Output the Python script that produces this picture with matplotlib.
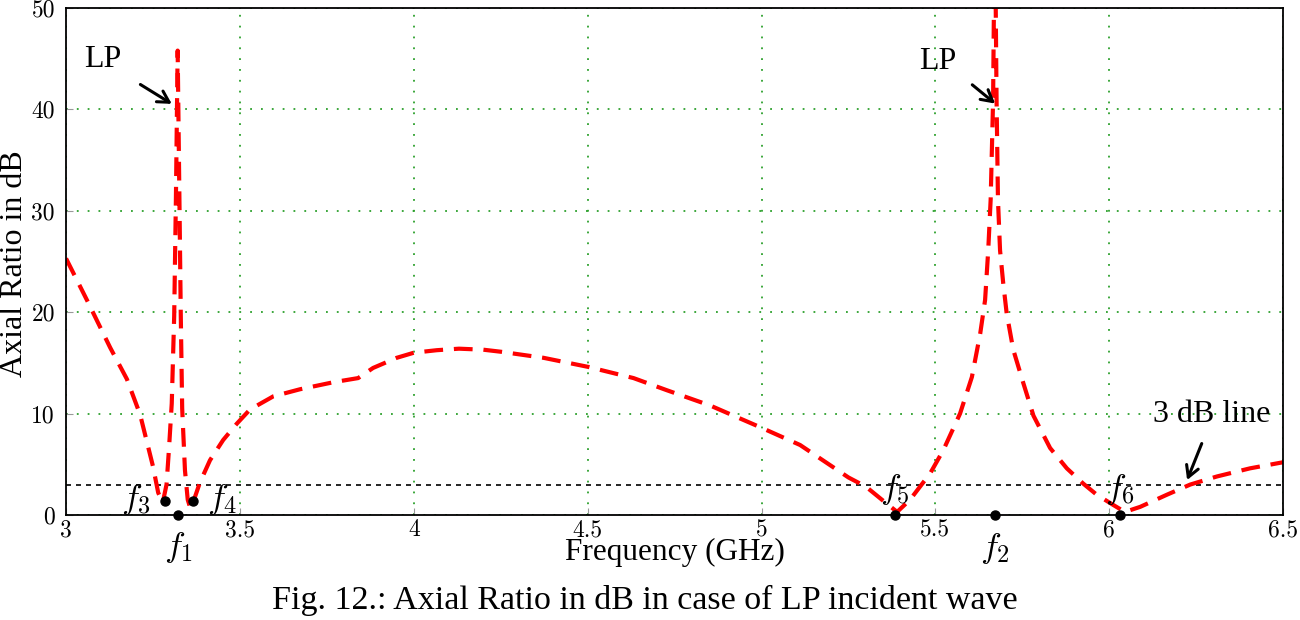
import matplotlib
matplotlib.use('Agg')
import matplotlib.pyplot as plt

# axial ratio curve (GHz, dB)
freq = [3.000, 3.060, 3.127, 3.175, 3.213, 3.250, 3.265, 3.278, 3.289, 3.296,
        3.304, 3.311, 3.316, 3.321, 3.326, 3.330, 3.334, 3.342, 3.350, 3.358,
        3.371, 3.385, 3.414, 3.452, 3.491, 3.529, 3.596, 3.673, 3.770, 3.840,
        3.883, 3.951, 4.000, 4.066, 4.130, 4.200, 4.250, 4.373, 4.502, 4.632,
        4.728, 4.852, 5.000, 5.111, 5.250, 5.300, 5.350, 5.390, 5.427, 5.485,
        5.523, 5.571, 5.605, 5.629, 5.643, 5.652, 5.659, 5.666, 5.671, 5.676,
        5.680, 5.686, 5.695, 5.705, 5.724, 5.753, 5.782, 5.830, 5.878, 5.925,
        5.964, 6.011, 6.045, 6.089, 6.166, 6.233, 6.310, 6.405, 6.500]
ar_db = [25.3, 21.2, 16.5, 13.4, 9.9, 4.8, 2.2, 1.2, 3.0, 6.5,
         11.0, 19.6, 31.3, 45.8, 31.3, 19.6, 10.5, 4.4, 1.5, 0.6,
         1.8, 3.2, 5.4, 7.4, 9.0, 10.4, 11.7, 12.4, 13.1, 13.5,
         14.5, 15.5, 16.0, 16.25, 16.4, 16.3, 16.1, 15.5, 14.6, 13.5,
         12.3, 10.8, 8.6, 6.9, 3.7, 2.8, 1.4, 0.3, 1.5, 4.1,
         6.4, 10.0, 13.6, 17.9, 21.2, 26.1, 31.1, 40.9, 60.0, 40.9,
         31.1, 26.1, 22.9, 19.9, 16.3, 13.0, 9.8, 6.6, 4.6, 3.1,
         2.0, 1.0, 0.3, 0.8, 2.0, 3.0, 3.8, 4.6, 5.2]

# marked frequencies
mark_names = ['f_1', 'f_2', 'f_3', 'f_4', 'f_5', 'f_6']
mark_x = [3.323, 5.672, 3.285, 3.364, 5.384, 6.031]
mark_y = [0, 0, 1.4, 1.4, 0, 0]
# label positions for the f's
lab_x = [3.323, 5.672, 3.201, 3.449, 5.384, 6.031]
lab_y = [-3.2, -3.3, 1.5, 1.5, 2.5, 2.5]

xticks = [3, 3.5, 4, 4.5, 5, 5.5, 6, 6.5]
yticks = [0, 10, 20, 30, 40, 50]

plt.rcParams['mathtext.fontset'] = 'cm'
serif = 'Liberation Serif'

fig = plt.figure(figsize=(13, 6.2), dpi=100)
ax = fig.add_axes([0.0508, 0.1694, 0.9362, 0.8177])

ax.plot(freq, ar_db, color='red', lw=3, dashes=(4.5, 2.6))
ax.axhline(3, color='black', lw=1.2, dashes=(3, 3), zorder=1)

ax.plot(mark_x, mark_y, 'o', color='black', ms=6.5, clip_on=False, zorder=5)
for n, x, y in zip(mark_names, lab_x, lab_y):
    ax.text(x, y, '$' + n + '$', fontsize=25, ha='center', va='center')

arrow = dict(arrowstyle='->,head_width=0.45,head_length=0.8', lw=2.2, color='black')
ax.text(3.106, 44.9, 'LP', family=serif, fontsize=23, ha='center', va='center')
ax.annotate('', xy=(3.311, 40.4), xytext=(3.207, 42.6), arrowprops=arrow)
ax.text(5.508, 44.7, 'LP', family=serif, fontsize=23, ha='center', va='center')
ax.annotate('', xy=(5.678, 40.4), xytext=(5.600, 42.6), arrowprops=arrow)
ax.text(6.296, 9.9, '3 dB line', family=serif, fontsize=23, ha='center', va='center')
ax.annotate('', xy=(6.221, 3.19), xytext=(6.269, 7.3), arrowprops=arrow)

ax.set_xlim(3, 6.5)
ax.set_ylim(0, 50)
ax.set_xticks(xticks)
ax.set_yticks(yticks)
ax.set_xticklabels([('%g' % t) for t in xticks], family='cmr10', fontsize=17)
ax.set_yticklabels([str(t) for t in yticks], family='cmr10', fontsize=17)
ax.tick_params(axis='x', direction='in', length=5, color='#999999', pad=3)
ax.tick_params(axis='y', direction='in', length=5, color='#999999', pad=8)
ax.grid(True, color='#2ca02c', lw=1.3, linestyle=(0, (1, 5)))
for s in ax.spines.values():
    s.set_linewidth(1.3)

ax.set_xlabel('Frequency (GHz)', family=serif, fontsize=22.5)
ax.xaxis.set_label_coords(0.5, -0.045)
fig.text(0.0112, 0.574, 'Axial Ratio in dB', family=serif, fontsize=23,
         rotation=90, ha='center', va='center')

fig.text(0.496, 0.032, 'Fig. 12.: Axial Ratio in dB in case of LP incident wave',
         family=serif, fontsize=24.5, ha='center', va='center')

fig.savefig('out.png', dpi=100)
